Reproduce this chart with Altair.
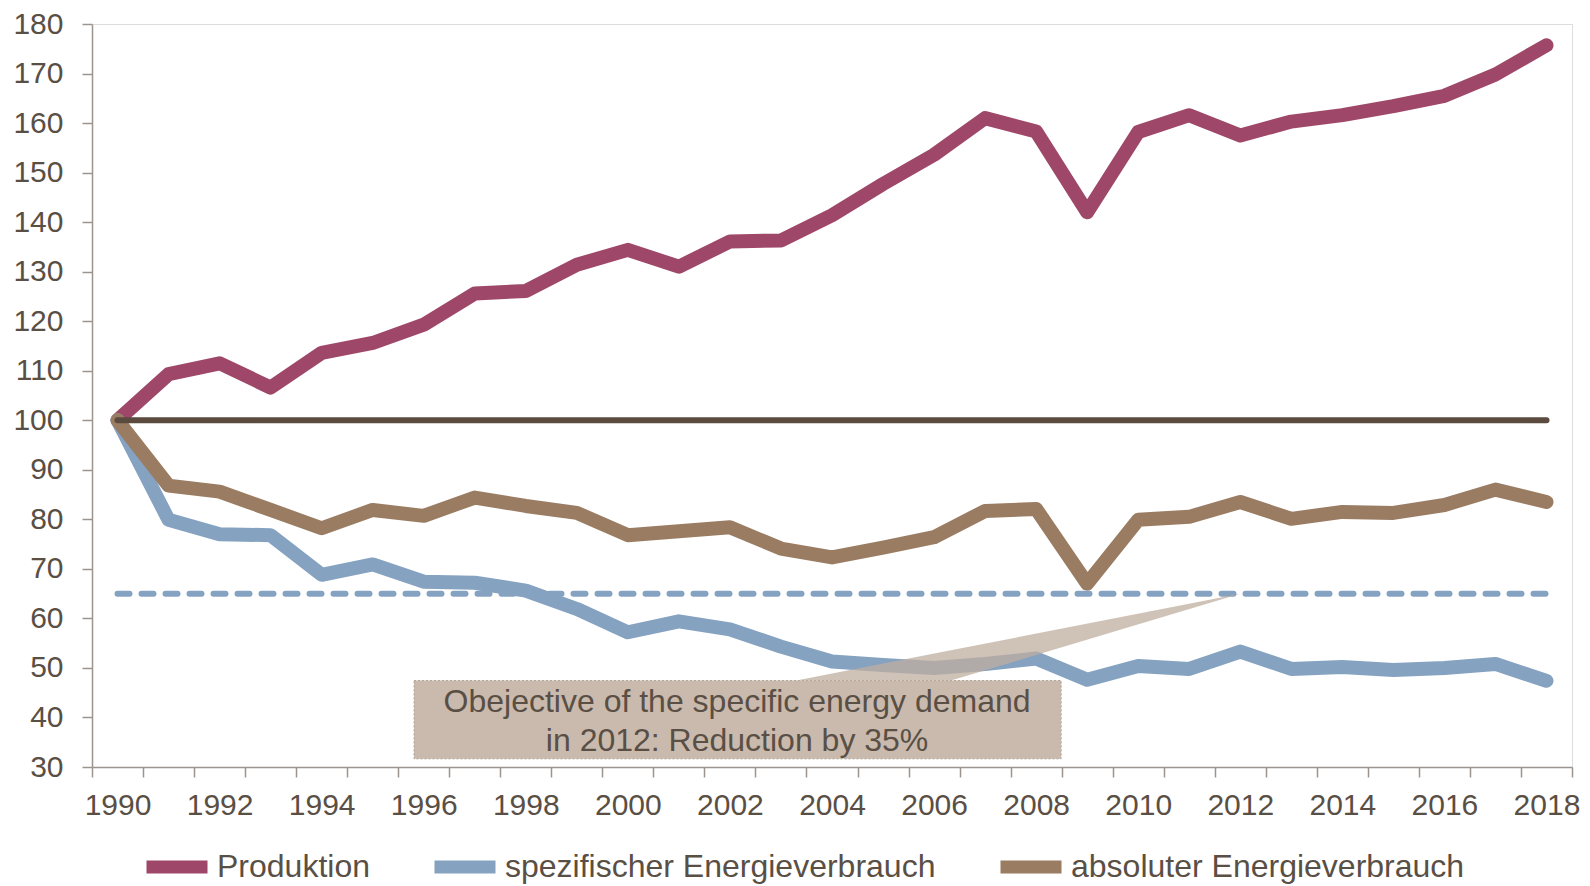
import altair as alt
import pandas as pd

years = list(range(1990, 2019))
produktion = [100, 109.3, 111.5, 106.6, 113.6, 115.6, 119.3, 125.6, 126.1, 131.4,
              134.4, 131.0, 136.1, 136.3, 141.4, 147.7, 153.6, 161.0, 158.3, 142.0,
              158.2, 161.6, 157.5, 160.3, 161.6, 163.4, 165.5, 169.8, 175.7]
spezifisch = [100, 79.9, 77.0, 76.8, 68.8, 70.9, 67.4, 67.2, 65.6, 61.9,
              57.2, 59.4, 57.8, 54.3, 51.3, 50.6, 50.0, 50.8, 51.9, 47.6,
              50.4, 49.8, 53.3, 49.8, 50.2, 49.6, 50.0, 50.8, 47.4]
absolut = [100, 86.8, 85.6, 81.9, 78.2, 81.9, 80.7, 84.4, 82.7, 81.3,
           76.8, 77.6, 78.4, 74.1, 72.3, 74.3, 76.4, 81.7, 82.1, 67.0,
           79.9, 80.5, 83.5, 80.1, 81.5, 81.3, 82.9, 86.0, 83.5]
series_names = ["Produktion", "spezifischer Energieverbrauch", "absoluter Energieverbrauch"]
series_colors = ["#9F4768", "#85A2C1", "#9A7C62"]

baseline_value = 100
target_value = 65
target_year = 2012
note_lines = ["Obejective of the specific energy demand", "in 2012: Reduction by 35%"]

FONT = "Liberation Sans"
TXT = "#5A4F45"
AX = "#9C958F"

rows = []
for name, vals in zip(series_names, [produktion, spezifisch, absolut]):
    for y, v in zip(years, vals):
        rows.append({"year": y, "series": name, "value": v})
df = pd.DataFrame(rows)

x_values = sorted([1989.5 + i for i in range(30)] + list(range(1990, 2019, 2)))
x_scale = alt.Scale(domain=[1989.5, 2018.5], nice=False, zero=False)
y_scale = alt.Scale(domain=[30, 180], nice=False, zero=False)

x_axis = alt.Axis(
    values=x_values, tickCount=200, tickMinStep=0.25, title=None, grid=False,
    labelExpr="datum.value % 2 == 0 ? format(datum.value, 'd') : ''",
    tickOpacity={"condition": {"test": "datum.value % 1 != 0", "value": 1}, "value": 0},
    labelOverlap=False, labelFlush=False, tickSize=10, labelPadding=13, labelFontSize=30,
    labelFont=FONT, labelColor=TXT, domainColor=AX, tickColor=AX,
    domainWidth=1.5, tickWidth=1.5,
)
y_axis = alt.Axis(
    values=list(range(30, 181, 10)), title=None, grid=False, tickSize=10,
    labelPadding=19, labelFontSize=30, labelFont=FONT, labelColor=TXT,
    domainColor=AX, tickColor=AX, domainWidth=1.5, tickWidth=1.5,
)

lines = alt.Chart(df).mark_line(strokeWidth=14, strokeCap="round", strokeJoin="round").encode(
    x=alt.X("year:Q", scale=x_scale, axis=x_axis),
    y=alt.Y("value:Q", scale=y_scale, axis=y_axis),
    color=alt.Color(
        "series:N",
        scale=alt.Scale(domain=series_names, range=series_colors),
        sort=series_names,
        legend=alt.Legend(
            title=None, orient="none", direction="horizontal", legendX=48, legendY=806,
            symbolType="stroke", symbolSize=3721, symbolStrokeWidth=13,
            labelFontSize=32, labelFont=FONT, labelColor=TXT, labelOffset=3,
            labelLimit=1000, columnPadding=38, padding=0,
        ),
    ),
    order=alt.Order("year:Q"),
)

ref_df = pd.DataFrame({"x1": [years[0]], "x2": [years[-1]], "base": [baseline_value], "target": [target_value]})
base_rule = alt.Chart(ref_df).mark_rule(color="#5B4B3E", strokeWidth=6, strokeCap="round").encode(
    x=alt.X("x1:Q", scale=x_scale, axis=x_axis), x2="x2:Q",
    y=alt.Y("base:Q", scale=y_scale, axis=y_axis),
)
target_rule = alt.Chart(ref_df).mark_rule(color="#85A2C1", strokeWidth=6, strokeCap="round",
                                           strokeDash=[12, 12]).encode(
    x=alt.X("x1:Q", scale=x_scale, axis=x_axis), x2="x2:Q",
    y=alt.Y("target:Q", scale=y_scale, axis=y_axis),
)

box_df = pd.DataFrame({"x1": [1995.81], "x2": [2008.49], "y1": [31.65], "y2": [47.45]})
box = alt.Chart(box_df).mark_rect(fill="#C9BAAD", stroke="#AFA196", strokeWidth=1,
                                  strokeDash=[2, 2]).encode(
    x=alt.X("x1:Q", scale=x_scale, axis=x_axis), x2="x2:Q",
    y=alt.Y("y1:Q", scale=y_scale, axis=y_axis), y2="y2:Q",
)

# callout triangle: base on box top, apex at (2012, 65)
bx1, bx2, by = 2003.3, 2006.33, 47.45
ax_, ay_ = float(target_year), float(target_value)
mid_y = by + (bx2 - bx1) / (ax_ - bx1) * (ay_ - by)
tri_df = pd.DataFrame({"x": [bx1, bx2, ax_], "ytop": [by, mid_y, ay_], "ybot": [by, by, ay_]})
tri = alt.Chart(tri_df).mark_area(color="#BFAE9F", opacity=0.75).encode(
    x=alt.X("x:Q", scale=x_scale, axis=x_axis),
    y=alt.Y("ytop:Q", scale=y_scale, axis=y_axis), y2="ybot:Q",
)

text_df = pd.DataFrame({"x": [2002.14], "y": [43.1], "t": [note_lines]})
note = alt.Chart(text_df).mark_text(fontSize=32, font=FONT, color=TXT, align="center",
                                    baseline="middle", lineHeight=39).encode(
    x=alt.X("x:Q", scale=x_scale, axis=x_axis),
    y=alt.Y("y:Q", scale=y_scale, axis=y_axis),
    text="t",
)

chart = alt.layer(lines, base_rule, target_rule, box, tri, note).properties(
    width=1480, height=743,
    autosize=alt.AutoSizeParams(type="none"),
    padding={"left": 84, "top": 16, "right": 10, "bottom": 117},
).configure_view(stroke=None).configure(background="white")

chart.save("out.html", embed_options={"renderer": "svg", "actions": False})
